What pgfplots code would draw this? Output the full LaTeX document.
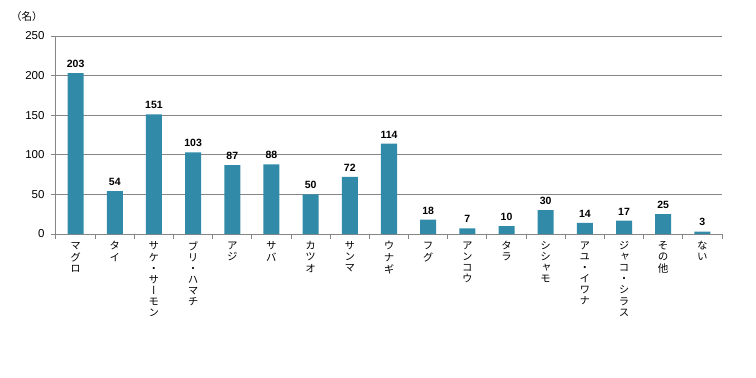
\documentclass[border=0pt]{standalone}
\usepackage{fontspec}
\setmainfont{Liberation Sans}
\newfontfamily\jp[RawFeature=+vert]{Noto Sans CJK JP}
\newfontfamily\jph{Noto Sans CJK JP}
\usepackage{pgfplots}
\pgfplotsset{compat=1.18}
\definecolor{barc}{RGB}{49,139,168}
\definecolor{gridc}{RGB}{134,134,134}
\newcommand\vt[1]{\begin{tabular}[t]{@{}c@{}}#1\end{tabular}}
\begin{document}
\begin{tikzpicture}[x=1pt,y=1pt]
\useasboundingbox (-56,-144) rectangle (700,234);
\begin{axis}[
  at={(0,0)}, anchor=south west,
  scale only axis, width=666pt, height=198pt,
  xmin=-0.5, xmax=16.5, ymin=0, ymax=250,
  ytick={0,50,...,250},
  xtick={-0.5,0.5,...,16.5},
  x tick label as interval,
  xticklabels={
    {\vt{マ\\グ\\ロ}},
    {\vt{タ\\イ}},
    {\vt{サ\\ケ\\・\\サ\\ー\\モ\\ン}},
    {\vt{ブ\\リ\\・\\ハ\\マ\\チ}},
    {\vt{ア\\ジ}},
    {\vt{サ\\バ}},
    {\vt{カ\\ツ\\オ}},
    {\vt{サ\\ン\\マ}},
    {\vt{ウ\\ナ\\ギ}},
    {\vt{フ\\グ}},
    {\vt{ア\\ン\\コ\\ウ}},
    {\vt{タ\\ラ}},
    {\vt{シ\\シ\\ャ\\モ}},
    {\vt{ア\\ユ\\・\\イ\\ワ\\ナ}},
    {\vt{ジ\\ャ\\コ\\・\\シ\\ラ\\ス}},
    {\vt{そ\\の\\他}},
    {\vt{な\\い}}
  },
  xticklabel style={font=\jp\fontsize{10.5}{11}\selectfont, anchor=north, yshift=1pt},
  yticklabel style={font=\fontsize{11.5}{13}\selectfont, xshift=-3pt},
  /pgf/number format/assume math mode=true,
  axis x line*=bottom, axis y line*=left,
  axis line style={gridc, line width=1pt, -},
  ymajorgrids, grid style={gridc, line width=1pt},
  tick style={gridc, line width=1pt},
  major tick length=5pt,
  tick align=outside,
  ybar, bar width=16pt,
  nodes near coords,
  every node near coord/.append style={font=\bfseries\fontsize{10.5}{12}\selectfont, anchor=south, yshift=2pt, text=black},
  clip=false,
]
\addplot[fill=barc, draw=none] coordinates {
  (0,203) (1,54) (2,151) (3,103) (4,87) (5,88) (6,50) (7,72) (8,114)
  (9,18) (10,7) (11,10) (12,30) (13,14) (14,17) (15,25) (16,3)
};
\node[font=\jph\fontsize{10.5}{12}\selectfont] at ([xshift=-29pt,yshift=19pt]rel axis cs:0,1) {（名）};
\end{axis}
\end{tikzpicture}
\end{document}
